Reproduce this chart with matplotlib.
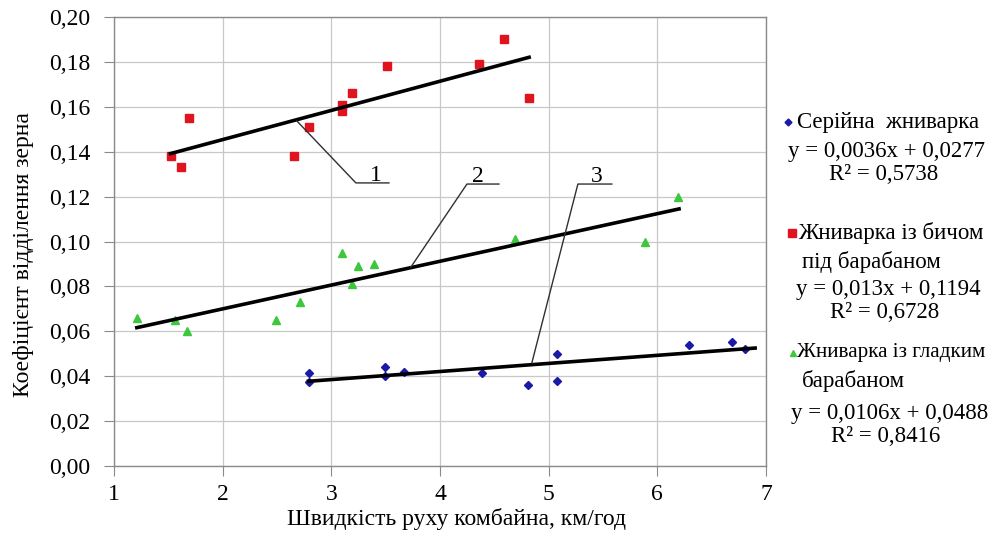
import matplotlib.pyplot as plt
from matplotlib.lines import Line2D
from matplotlib.ticker import FuncFormatter

plt.rcParams['font.family'] = ['Liberation Serif', 'DejaVu Serif']

# Серійна жниварка (blue diamonds)
blue_x = [2.79, 2.79, 3.49, 3.49, 3.67, 4.39, 4.81, 5.08, 5.08, 6.29, 6.69, 6.81]
blue_y = [0.0414, 0.0374, 0.0441, 0.0401, 0.0419, 0.0414, 0.0361, 0.0499, 0.0379, 0.0539, 0.0552, 0.0521]

# Жниварка із бичом під барабаном (red squares)
red_x = [1.52, 1.62, 1.69, 2.66, 2.79, 3.10, 3.10, 3.19, 3.51, 4.36, 4.59, 4.82]
red_y = [0.138, 0.133, 0.155, 0.138, 0.151, 0.158, 0.161, 0.166, 0.178, 0.179, 0.190, 0.164]

# Жниварка із гладким барабаном (green triangles)
green_x = [1.21, 1.56, 1.67, 2.49, 2.71, 3.10, 3.19, 3.25, 3.39, 4.69, 5.89, 6.19]
green_y = [0.066, 0.065, 0.060, 0.065, 0.073, 0.095, 0.081, 0.089, 0.090, 0.101, 0.100, 0.120]

# trend lines: slope, intercept, x range
blue_fit = (0.0036, 0.0277, 2.79, 6.9)
red_fit = (0.013, 0.1194, 1.52, 4.82)
green_fit = (0.0106, 0.0488, 1.21, 6.2)

fig = plt.figure(figsize=(9.93, 5.42), dpi=100)
ax = fig.add_axes([0.1148, 0.1402, 0.6566, 0.8284])

ax.plot(blue_x, blue_y, 'D', color='#1a1aa6', markersize=4, linestyle='None', zorder=3)
ax.plot(red_x, red_y, 's', color='#e0141e', markersize=6, linestyle='None', zorder=3)
ax.plot(green_x, green_y, '^', color='#3cc83c', markersize=6, linestyle='None', zorder=3)

for k, b, x0, x1 in [red_fit, green_fit, blue_fit]:
    ax.plot([x0, x1], [k * x0 + b, k * x1 + b], color='black', lw=2.6, zorder=4)

# leader lines with labels 1, 2, 3
leaders = [
    ('1', [2.683, 3.226, 3.53], [0.1537, 0.1261, 0.1261], 3.41),
    ('2', [3.732, 4.248, 4.542], [0.0886, 0.1256, 0.1256], 4.35),
    ('3', [4.845, 5.269, 5.581], [0.0459, 0.1256, 0.1256], 5.44),
]
for lab, lx, ly, tx in leaders:
    ax.plot(lx, ly, color='#303030', lw=1.0, zorder=5)
    ax.text(tx, ly[-1] + 0.0009, lab, fontsize=17, ha='center', va='baseline')

ax.set_xlim(1, 7)
ax.set_ylim(0, 0.2)
ax.set_xticks(range(1, 8))
ax.set_yticks([i * 0.02 for i in range(11)])
ax.yaxis.set_major_formatter(FuncFormatter(lambda v, p: f'{v:.2f}'.replace('.', ',')))
ax.grid(True, color='#c8c8c8', lw=0.9)
ax.set_axisbelow(True)
for s in ax.spines.values():
    s.set_color('#8a8a8a')
    s.set_linewidth(1.0)
ax.tick_params(direction='out', length=7, color='#8a8a8a', labelsize=17)
ax.tick_params(axis='y', pad=10)
ax.tick_params(axis='x', pad=6)

ax.set_xlabel('Швидкість руху комбайна, км/год', fontsize=17)
ax.set_ylabel('Коефіцієнт відділення зерна', fontsize=17)
ax.xaxis.set_label_coords(0.526, -0.094)
ax.yaxis.set_label_coords(-0.123, 0.472)

# legend block on the right
def fx(px):
    return px / 993

def fy(py):
    return 1 - py / 542

leg_fs = 16.5
fig.add_artist(Line2D([fx(788)], [fy(122)], marker='D', color='#1a1aa6', markersize=3.5, linestyle='None'))
fig.text(fx(797), fy(122), 'Серійна  жниварка', fontsize=leg_fs, va='center')
fig.text(fx(886), fy(152), 'y = 0,0036x + 0,0277', fontsize=leg_fs, va='center', ha='center')
fig.text(fx(884), fy(175), 'R² = 0,5738', fontsize=leg_fs, va='center', ha='center')

fig.add_artist(Line2D([fx(792)], [fy(233)], marker='s', color='#e0141e', markersize=5.5, linestyle='None'))
fig.text(fx(798), fy(233), 'Жниварка із бичом', fontsize=leg_fs, va='center')
fig.text(fx(802), fy(262), 'під барабаном', fontsize=leg_fs, va='center')
fig.text(fx(888), fy(289), 'y = 0,013x + 0,1194', fontsize=leg_fs, va='center', ha='center')
fig.text(fx(885), fy(312), 'R² = 0,6728', fontsize=leg_fs, va='center', ha='center')

fig.add_artist(Line2D([fx(793)], [fy(353)], marker='^', color='#3cc83c', markersize=5, linestyle='None'))
fig.text(fx(797), fy(353), 'Жниварка із гладким', fontsize=15.2, va='center')
fig.text(fx(802), fy(381), 'барабаном', fontsize=leg_fs, va='center')
fig.text(fx(890), fy(413), 'y = 0,0106x + 0,0488', fontsize=leg_fs, va='center', ha='center')
fig.text(fx(886), fy(437), 'R² = 0,8416', fontsize=leg_fs, va='center', ha='center')

fig.savefig('out.png', dpi=100)
